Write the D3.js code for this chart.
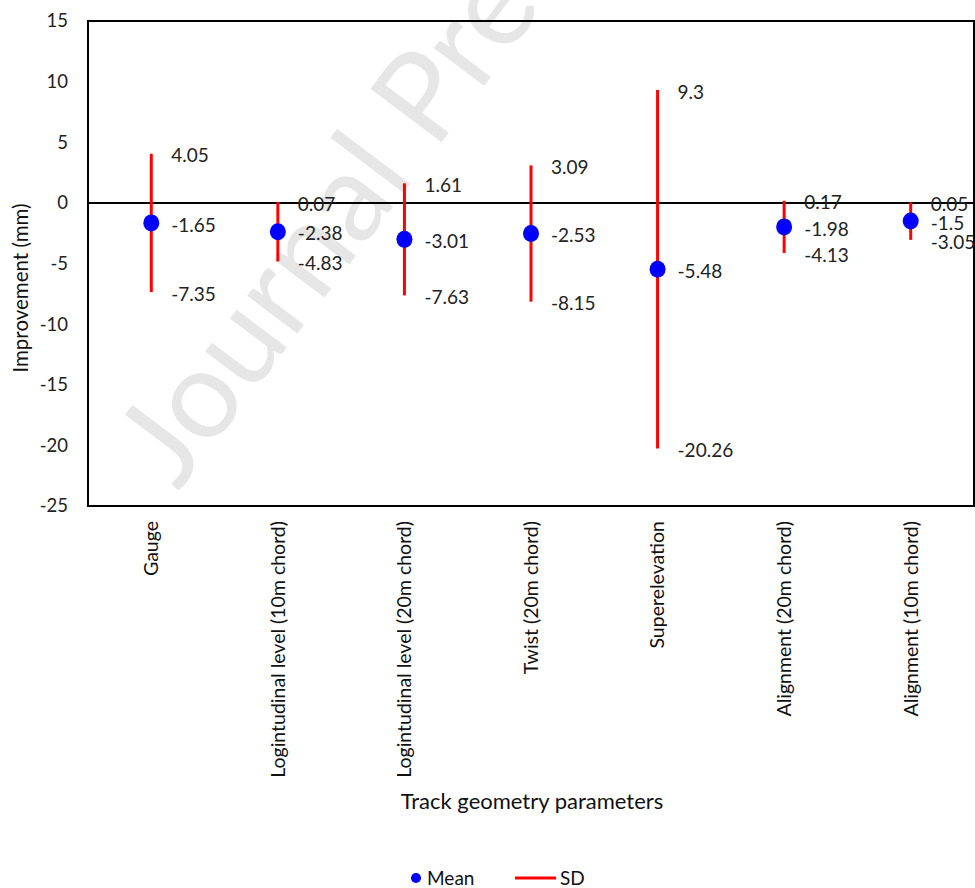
<!DOCTYPE html>
<html>
<head>
<meta charset="utf-8">
<script src="https://cdn.jsdelivr.net/npm/d3@7"></script>
<style>
  html, body { margin: 0; padding: 0; background: #fff; }
  svg { display: block; font-family: Lato, "Open Sans", sans-serif; }
</style>
</head>
<body>
<svg id="chart" width="975" height="888"></svg>
<script>
const categories = [
  "Gauge",
  "Logintudinal level (10m chord)",
  "Logintudinal level (20m chord)",
  "Twist (20m chord)",
  "Superelevation",
  "Alignment (20m chord)",
  "Alignment (10m chord)"
];
const meanValues = [-1.65, -2.38, -3.01, -2.53, -5.48, -1.98, -1.5];
const upperValues = [4.05, 0.07, 1.61, 3.09, 9.3, 0.17, 0.05];
const lowerValues = [-7.35, -4.83, -7.63, -8.15, -20.26, -4.13, -3.05];
const yTicks = [15, 10, 5, 0, -5, -10, -15, -20, -25];

const svg = d3.select("#chart");
const m = { left: 88, right: 974, top: 21, bottom: 506 };

// Watermark
svg.append("text")
  .attr("transform", "translate(178,492) rotate(-53)")
  .attr("font-size", 124)
  .attr("fill", "#e6e6e6")
  .attr("font-family", "Lato, sans-serif")
  .text("Journal Pre-proof");

const x = d3.scaleBand().domain(categories).range([m.left, m.right]);
const y = d3.scaleLinear().domain([-25, 15]).range([m.bottom, m.top]);

// Y tick labels
const yAxis = d3.axisLeft(y).tickValues(yTicks).tickSize(0).tickPadding(20).tickFormat(d => String(d));
const ya = svg.append("g").attr("transform", `translate(${m.left},0)`).call(yAxis);
ya.select(".domain").remove();
ya.selectAll("text").attr("font-size", 18.5).attr("font-family", "Lato, sans-serif").attr("fill", "#222");

// X category labels
const xAxis = d3.axisBottom(x).tickSize(0);
const xa = svg.append("g").attr("transform", `translate(0,${m.bottom})`).call(xAxis);
xa.select(".domain").remove();
xa.selectAll("text")
  .attr("font-size", 19.5)
  .attr("font-family", "Lato, sans-serif")
  .attr("fill", "#111")
  .attr("text-anchor", "end")
  .attr("transform", "rotate(-90)")
  .attr("x", -15)
  .attr("y", 0)
  .attr("dy", "0.35em");

// Frame
svg.append("rect")
  .attr("x", m.left).attr("y", m.top)
  .attr("width", m.right - m.left).attr("height", m.bottom - m.top)
  .attr("fill", "none").attr("stroke", "#000").attr("stroke-width", 2);

// Zero line
svg.append("line")
  .attr("x1", m.left).attr("x2", m.right)
  .attr("y1", y(0)).attr("y2", y(0))
  .attr("stroke", "#000").attr("stroke-width", 2);

const data = categories.map((c, i) => ({ c, mean: meanValues[i], up: upperValues[i], lo: lowerValues[i] }));
const cx = d => x(d.c) + x.bandwidth() / 2;

// SD bars
svg.append("g").selectAll("line").data(data).join("line")
  .attr("x1", cx).attr("x2", cx)
  .attr("y1", d => y(d.up)).attr("y2", d => y(d.lo))
  .attr("stroke", "#ff0000").attr("stroke-width", 3);

// Mean points
svg.append("g").selectAll("ellipse").data(data).join("ellipse")
  .attr("cx", cx).attr("cy", d => y(d.mean))
  .attr("rx", 8).attr("ry", 8.5)
  .attr("fill", "#0000ff");

// Labels
const lab = svg.append("g").attr("font-size", 19).attr("font-family", "Lato, sans-serif").attr("fill", "#222");
["up", "mean", "lo"].forEach(k => {
  lab.append("g").selectAll("text").data(data).join("text")
    .attr("x", d => cx(d) + 20)
    .attr("y", d => y(d[k]) + 2)
    .attr("dy", "0.35em")
    .text(d => d[k]);
});

// Axis titles
svg.append("text")
  .attr("transform", `translate(28,288) rotate(-90)`)
  .attr("text-anchor", "middle")
  .attr("font-size", 20.5)
  .attr("fill", "#111")
  .text("Improvement (mm)");

svg.append("text")
  .attr("x", 532).attr("y", 809)
  .attr("text-anchor", "middle")
  .attr("font-size", 22)
  .attr("fill", "#111")
  .text("Track geometry parameters");

// Legend
const lg = svg.append("g").attr("font-size", 19).attr("fill", "#111");
lg.append("circle").attr("cx", 416).attr("cy", 878).attr("r", 5).attr("fill", "#0000ff");
lg.append("text").attr("x", 427).attr("y", 878).attr("dy", "0.35em").text("Mean");
lg.append("line").attr("x1", 515).attr("x2", 556).attr("y1", 878).attr("y2", 878).attr("stroke", "#ff0000").attr("stroke-width", 3);
lg.append("text").attr("x", 560).attr("y", 878).attr("dy", "0.35em").text("SD");
</script>
</body>
</html>
